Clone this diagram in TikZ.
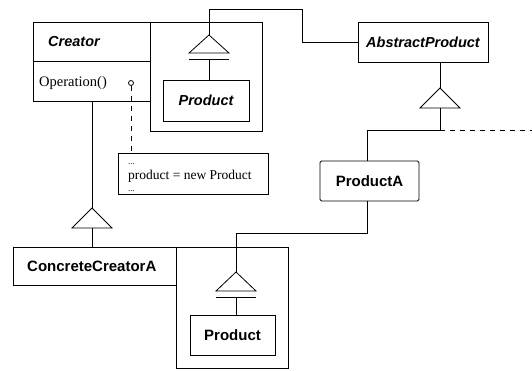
\documentclass[tikz,border=0pt]{standalone}
\usepackage{fontspec}
\setmainfont{Liberation Serif}
\setsansfont{Liberation Sans}
\begin{document}
\begin{tikzpicture}[x=1pt,y=-1pt,
  box/.style={draw, line width=0.8pt, inner sep=0pt},
  cls/.style={font=\sffamily\bfseries\fontsize{15}{17}\selectfont},
  clsit/.style={font=\sffamily\bfseries\itshape\fontsize{14.5}{16}\selectfont},
  srf/.style={font=\fontsize{13.5}{15}\selectfont},
  dots/.style={font=\fontsize{9}{10}\selectfont},
  ln/.style={line width=0.8pt},
  tri/.style={draw, line width=0.8pt, fill=white},
  dsh/.style={line width=0.8pt, dash pattern=on 5pt off 5pt}]
\useasboundingbox (0,0) rectangle (532,371);
% Creator
\node[box, minimum width=117pt, minimum height=79pt] (creator) at (91.5,61.5) {};
\draw[ln] (creator.west |- 0,61) coordinate (cdl) -- (creator.east |- 0,61) coordinate (cdr);
\node[clsit, anchor=base west, inner sep=0pt] (creatorT) at (48,47) {Creator};
\node[font=\fontsize{14.5}{16}\selectfont, anchor=base west, inner sep=0pt] (opT) at (39,87) {Operation()};
\node[draw, circle, ln, minimum size=5pt, inner sep=0pt] (oc) at (131,83) {};
% nested box upper
\node[box, minimum width=112pt, minimum height=109pt] (nest1) at (206,76.5) {};
\coordinate (t1) at (209,35);
\draw[tri] (t1) -- ++(20,18) -- ++(-40,0) -- cycle;
\coordinate (t1b) at (209,59);
\draw[ln] (189,59) -- (229,59);
\node[box, minimum width=86pt, minimum height=41pt, clsit] (prod1) at (206,100.5) {Product};
\draw[ln] (t1b) -- (t1b |- prod1.north);
% AbstractProduct
\node[box, minimum width=130pt, minimum height=40pt, clsit] (ap) at (423,42) {AbstractProduct};
\coordinate (k1) at (302,9);
\draw[ln] (t1) |- (k1) |- (ap.west);
\coordinate (t2) at (440,88);
\draw[ln] (t2 |- ap.south) -- (t2);
\draw[tri] (t2) -- ++(20,20) -- ++(-40,0) -- cycle;
\coordinate (t2b) at (440,108);
\coordinate (j1) at (367,130);
\coordinate (dend) at (532,130);
\draw[ln] (t2b) |- (j1);
\draw[dsh] (t2b |- j1) -- (dend);
% ProductA
\node[box, minimum width=99pt, minimum height=40pt, cls, rounded corners=1.5pt] (pa) at (369.5,181) {ProductA};
\draw[ln] (j1) -- (j1 |- pa.north);
% note
\node[box, minimum width=150pt, minimum height=41pt] (note) at (193,173.5) {};
\node[dots, anchor=base west, inner sep=0pt] (nd1) at (128,165) {...};
\node[srf, anchor=base west, inner sep=0pt] (nt) at (128,180) {product = new Product};
\node[dots, anchor=base west, inner sep=0pt] (nd2) at (128,192) {...};
\draw[dsh] (oc.south) -- (oc.south |- note.north);
% ConcreteCreatorA
\coordinate (t3) at (92,208);
\draw[ln] (t3 |- creator.south) -- (t3);
\draw[tri] (t3) -- ++(20,20) -- ++(-40,0) -- cycle;
\coordinate (t3b) at (92,228);
\node[box, minimum width=163pt, minimum height=38pt] (cc) at (94.5,266) {};
\node[cls, anchor=base west, inner sep=0pt] (ccT) at (27,271.5) {ConcreteCreatorA};
\draw[ln] (t3b) -- (t3b |- cc.north);
% nested box lower
\node[box, minimum width=112pt, minimum height=121pt] (nest2) at (232,307.5) {};
\coordinate (k2) at (236,233);
\coordinate (t4) at (236,272);
\draw[ln] (j1 |- pa.south) |- (k2) -- (t4);
\draw[tri] (t4) -- ++(20,19) -- ++(-40,0) -- cycle;
\draw[ln] (216,297) -- (256,297);
\coordinate (t4b) at (236,297);
\node[box, minimum width=85pt, minimum height=40pt, cls] (prod2) at (232.5,335) {Product};
\draw[ln] (t4b) -- (t4b |- prod2.north);
\end{tikzpicture}
\end{document}
